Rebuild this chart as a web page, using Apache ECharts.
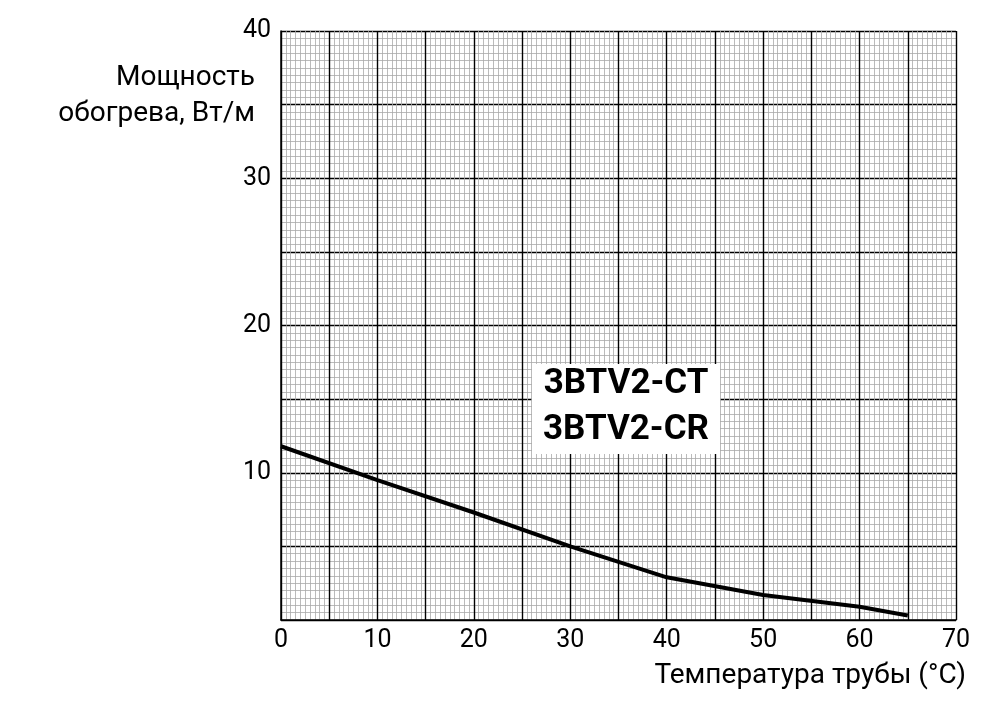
<!DOCTYPE html>
<html><head><meta charset="utf-8">
<script src="https://cdn.jsdelivr.net/npm/echarts@6/dist/echarts.min.js"></script>
<style>html,body{margin:0;background:#fff}#c{width:986px;height:720px}</style>
</head><body><div id="c"></div>
<script>
const temps = [0, 10, 20, 30, 40, 50, 60, 65];
const power = [11.8, 9.5, 7.3, 5.0, 2.9, 1.7, 0.9, 0.3];
const labels = ['3BTV2-CT', '3BTV2-CR'];
const xTitle = 'Температура трубы (°C)';
const yTitle = 'Мощность\nобогрева, Вт/м';

const F = 'Roboto';
const axisCommon = {
  interval: 5,
  axisLine: {show: true, lineStyle: {color: '#000', width: 1.5}},
  axisTick: {show: false},
  splitLine: {show: true, lineStyle: {color: '#000', width: 1.4}},
  minorTick: {show: false, splitNumber: 10},
  minorSplitLine: {show: true, lineStyle: {color: '#aaa', width: 0.8}},
  axisLabel: {color: '#000', fontFamily: F, fontSize: 25,
    formatter: v => (v % 10 === 0 ? String(v) : '')}
};
const chart = echarts.init(document.getElementById('c'));
chart.setOption({
  animation: false,
  grid: {left: 281, top: 31, width: 675, height: 589},
  xAxis: Object.assign({type: 'value', min: 0, max: 70}, axisCommon,
    {axisLabel: Object.assign({}, axisCommon.axisLabel, {margin: 8})}),
  yAxis: Object.assign({type: 'value', min: 0, max: 40}, axisCommon,
    {axisLabel: Object.assign({}, axisCommon.axisLabel, {margin: 10,
      formatter: v => (v % 10 === 0 && v !== 0 ? String(v) : '')})}),
  series: [{type: 'line', data: temps.map((t, i) => [t, power[i]]),
    showSymbol: false, lineStyle: {color: '#000', width: 4}}],
  graphic: [
    {type: 'text', x: 255, y: 60, style: {text: yTitle, font: '28px ' + F, fill: '#000',
      align: 'right', lineHeight: 36}},
    {type: 'text', x: 966, y: 662, style: {text: xTitle, font: '28px ' + F, fill: '#000', align: 'right'}},
    {type: 'rect', shape: {x: 532, y: 364, width: 188, height: 90}, style: {fill: '#fff'}, z: 50},
    {type: 'text', x: 626, y: 367, z: 51, style: {text: labels[0], font: 'bold 35px ' + F, fill: '#000',
      align: 'center'}},
    {type: 'text', x: 626, y: 413, z: 51, style: {text: labels[1], font: 'bold 35px ' + F, fill: '#000',
      align: 'center'}}
  ]
});
</script></body></html>
